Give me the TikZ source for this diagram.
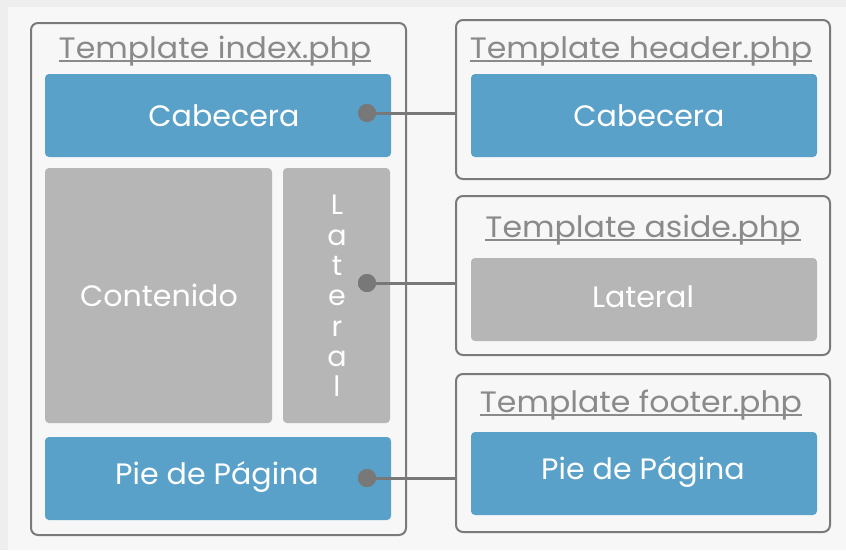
\documentclass[tikz,border=0pt]{standalone}
\usepackage{fontspec}
\setmainfont{Poppins}[FakeStretch=1.02]
\newfontfamily\ttlfont{Poppins}[FakeStretch=1.07]
\definecolor{bgC}{HTML}{F7F7F7}
\definecolor{edgeC}{HTML}{EEEEEE}
\definecolor{frameC}{HTML}{7A7A7A}
\definecolor{titleC}{HTML}{8A8A8A}
\definecolor{blueC}{HTML}{5AA1CA}
\definecolor{grayC}{HTML}{B6B6B6}
\definecolor{dotC}{HTML}{787878}
\newcommand\ulin[1]{\setbox0=\hbox{#1}\rlap{\rule[-3.5pt]{\wd0}{1.4pt}}\box0}
\tikzset{
  frame/.style={draw=frameC, line width=2pt, rounded corners=7pt, fill=bgC, inner sep=0pt},
  ttl/.style={text=titleC, font=\ttlfont\fontsize{29.5}{30}\selectfont, anchor=base, inner sep=0pt},
  bluebox/.style={fill=blueC, rounded corners=4pt, inner sep=0pt},
  graybox/.style={fill=grayC, rounded corners=4pt, inner sep=0pt},
  lbl/.style={text=white, inner sep=0pt, font=\fontsize{29.5}{30}\selectfont},
  dot/.style={circle, fill=dotC, minimum size=18pt, inner sep=0pt},
  link/.style={draw=dotC, line width=3pt}
}
\begin{document}
\begin{tikzpicture}[x=1pt,y=-1pt]
\useasboundingbox (0,0) rectangle (846,550);
\fill[bgC] (0,0) rectangle (846,550);
\fill[edgeC] (0,0) rectangle (846,7);
\fill[edgeC] (0,0) rectangle (8,550);
% left frame
\node[frame, minimum width=375pt, minimum height=512pt] (idx) at (218.5,279) {};
\node[ttl] (idxT) at (215,58) {\ulin{Template index.php}};
\node[bluebox, minimum width=346pt, minimum height=83pt] (cab) at (218,115.5) {};
\node[lbl] (cabT) at (224,115.5) {Cabecera};
\node[graybox, minimum width=227pt, minimum height=255pt] (cont) at (158.5,295.5) {};
\node[lbl] (contT) at (159,295.5) {Contenido};
\node[graybox, minimum width=107pt, minimum height=255pt] (lat) at (336.5,295.5) {};
\node[text=white, font=\fontsize{28}{30.3}\selectfont, align=center, inner sep=0pt] (latT) at (337,296) {L\\a\\t\\e\\r\\a\\l};
\node[bluebox, minimum width=346pt, minimum height=83pt] (pie) at (218,478.5) {};
\node[lbl] (pieT) at (217,477) {Pie de Página};
% right frames
\node[frame, minimum width=374pt, minimum height=159pt] (hdr) at (643,99.5) {};
\node[ttl] (hdrT) at (641,58) {\ulin{Template header.php}};
\node[bluebox, minimum width=346pt, minimum height=83pt] (cab2) at (644,115.5) {};
\node[lbl] (cab2T) at (649,115.5) {Cabecera};
\node[frame, minimum width=374pt, minimum height=159pt] (asd) at (643,275.5) {};
\node[ttl] (asdT) at (643,237) {\ulin{Template aside.php}};
\node[graybox, minimum width=346pt, minimum height=83pt] (lat2) at (644,299.5) {};
\node[lbl] (lat2T) at (643,296.5) {Lateral};
\node[frame, minimum width=374pt, minimum height=158pt] (ftr) at (643,453) {};
\node[ttl] (ftrT) at (641,412) {\ulin{Template footer.php}};
\node[bluebox, minimum width=346pt, minimum height=83pt] (pie2) at (644,473.5) {};
\node[lbl] (pie2T) at (643,472) {Pie de Página};
% dots and links
\node[dot] (d1) at (367,113) {};
\node[dot] (d2) at (367,283) {};
\node[dot] (d3) at (367,478) {};
\draw[link] (d1.center) -- (d1.center -| hdr.west);
\draw[link] (d2.center) -- (d2.center -| asd.west);
\draw[link] (d3.center) -- (d3.center -| ftr.west);
\node[dot] at (d1) {};
\node[dot] at (d2) {};
\node[dot] at (d3) {};
\end{tikzpicture}
\end{document}
